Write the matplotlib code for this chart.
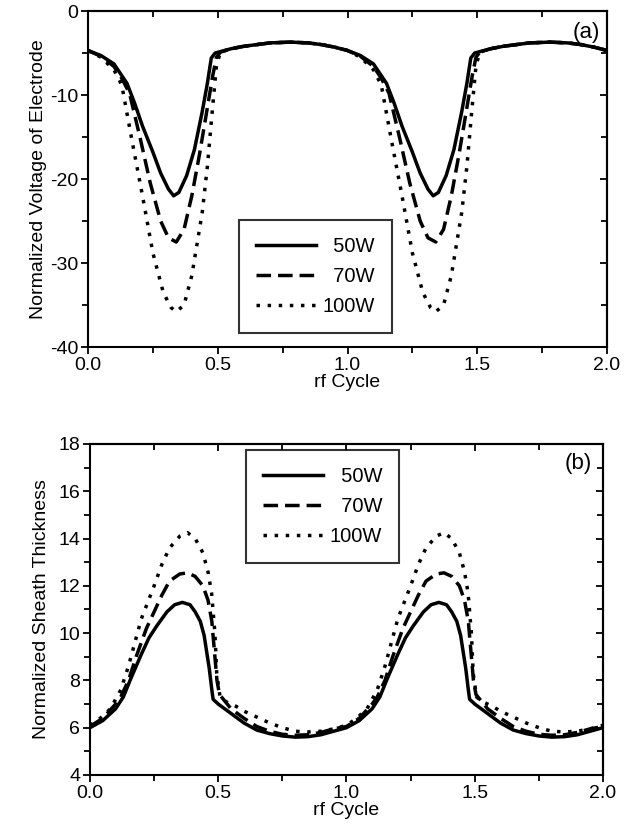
import matplotlib
matplotlib.use('Agg')
import matplotlib.pyplot as plt
from matplotlib.ticker import MultipleLocator

plt.rcParams['font.family'] = ['Liberation Sans', 'DejaVu Sans']
plt.rcParams['axes.unicode_minus'] = False

# ---- data ----
labels = ['50W', '70W', '100W']

# (a) normalized electrode voltage
xa_50 = [0.00, 0.05, 0.10, 0.15, 0.18, 0.21, 0.25, 0.28, 0.31, 0.33, 0.35, 0.38, 0.41, 0.44, 0.46,
         0.475, 0.49, 0.55, 0.60, 0.70, 0.78, 0.85, 0.90, 0.95,
         1.00, 1.05, 1.10, 1.15, 1.18, 1.21, 1.25, 1.28, 1.31, 1.33, 1.35, 1.38, 1.41, 1.44, 1.46,
         1.475, 1.49, 1.55, 1.60, 1.70, 1.78, 1.85, 1.90, 1.95, 2.00]
va_50 = [-4.7, -5.3, -6.3, -8.6, -11.0, -13.7, -16.8, -19.3, -21.2, -22.0, -21.6, -19.6, -16.5, -12.0, -8.6,
         -5.6, -5.0, -4.5, -4.2, -3.8, -3.7, -3.8, -4.0, -4.3,
         -4.7, -5.3, -6.3, -8.6, -11.0, -13.7, -16.8, -19.3, -21.2, -22.0, -21.6, -19.6, -16.5, -12.0, -8.6,
         -5.6, -5.0, -4.5, -4.2, -3.8, -3.7, -3.8, -4.0, -4.3, -4.7]

xa_70 = [0.00, 0.05, 0.10, 0.13, 0.16, 0.20, 0.24, 0.28, 0.31, 0.34, 0.37, 0.40, 0.43, 0.46, 0.48, 0.495, 0.51,
         0.55, 0.60, 0.70, 0.78, 0.85, 0.90, 0.95,
         1.00, 1.05, 1.10, 1.13, 1.16, 1.20, 1.24, 1.28, 1.31, 1.34, 1.37, 1.40, 1.43, 1.46, 1.48, 1.495, 1.51,
         1.55, 1.60, 1.70, 1.78, 1.85, 1.90, 1.95, 2.00]
va_70 = [-4.7, -5.4, -6.6, -8.0, -9.8, -15.0, -20.5, -25.0, -27.0, -27.5, -26.0, -22.0, -17.0, -11.5, -7.8, -5.5, -4.9,
         -4.5, -4.2, -3.8, -3.7, -3.8, -4.0, -4.3,
         -4.7, -5.4, -6.6, -8.0, -9.8, -15.0, -20.5, -25.0, -27.0, -27.5, -26.0, -22.0, -17.0, -11.5, -7.8, -5.5, -4.9,
         -4.5, -4.2, -3.8, -3.7, -3.8, -4.0, -4.3, -4.7]

xa_100 = [0.00, 0.05, 0.10, 0.13, 0.17, 0.21, 0.25, 0.29, 0.32, 0.34, 0.37, 0.40, 0.44, 0.46, 0.48, 0.495, 0.51,
          0.55, 0.60, 0.70, 0.78, 0.85, 0.90, 0.95,
          1.00, 1.05, 1.10, 1.13, 1.17, 1.21, 1.25, 1.29, 1.32, 1.34, 1.37, 1.40, 1.44, 1.46, 1.48, 1.495, 1.51,
          1.55, 1.60, 1.70, 1.78, 1.85, 1.90, 1.95, 2.00]
va_100 = [-4.7, -5.5, -7.0, -8.8, -15.5, -22.0, -28.8, -33.5, -35.3, -35.8, -35.0, -31.5, -24.0, -18.5, -11.5, -6.5, -4.9,
          -4.5, -4.2, -3.8, -3.7, -3.8, -4.0, -4.3,
          -4.7, -5.5, -7.0, -8.8, -15.5, -22.0, -28.8, -33.5, -35.3, -35.8, -35.0, -31.5, -24.0, -18.5, -11.5, -6.5, -4.9,
          -4.5, -4.2, -3.8, -3.7, -3.8, -4.0, -4.3, -4.7]

# (b) normalized sheath thickness
xb_50 = [0.00, 0.05, 0.10, 0.13, 0.16, 0.20, 0.23, 0.26, 0.30, 0.33, 0.36, 0.39, 0.41, 0.43, 0.445, 0.455, 0.465,
         0.475, 0.48, 0.50, 0.55, 0.60, 0.65, 0.70, 0.75, 0.80, 0.85, 0.90, 0.95,
         1.00, 1.05, 1.10, 1.13, 1.16, 1.20, 1.23, 1.26, 1.30, 1.33, 1.36, 1.39, 1.41, 1.43, 1.445, 1.455, 1.465,
         1.475, 1.48, 1.50, 1.55, 1.60, 1.65, 1.70, 1.75, 1.80, 1.85, 1.90, 1.95, 2.00]
vb_50 = [6.0, 6.3, 6.8, 7.3, 8.1, 9.1, 9.8, 10.3, 10.9, 11.2, 11.3, 11.2, 10.9, 10.5, 9.9, 9.2, 8.5,
         7.6, 7.2, 7.0, 6.6, 6.2, 5.9, 5.75, 5.65, 5.6, 5.62, 5.7, 5.85,
         6.0, 6.3, 6.8, 7.3, 8.1, 9.1, 9.8, 10.3, 10.9, 11.2, 11.3, 11.2, 10.9, 10.5, 9.9, 9.2, 8.5,
         7.6, 7.2, 7.0, 6.6, 6.2, 5.9, 5.75, 5.65, 5.6, 5.62, 5.7, 5.85, 6.0]

xb_70 = [0.00, 0.05, 0.10, 0.12, 0.15, 0.18, 0.22, 0.25, 0.28, 0.31, 0.35, 0.38, 0.41, 0.44, 0.46, 0.475, 0.487,
         0.495, 0.505, 0.52, 0.55, 0.60, 0.65, 0.70, 0.75, 0.80, 0.85, 0.90, 0.95,
         1.00, 1.05, 1.10, 1.12, 1.15, 1.18, 1.22, 1.25, 1.28, 1.31, 1.35, 1.38, 1.41, 1.44, 1.46, 1.475, 1.487,
         1.495, 1.505, 1.52, 1.55, 1.60, 1.65, 1.70, 1.75, 1.80, 1.85, 1.90, 1.95, 2.00]
vb_70 = [6.05, 6.4, 7.0, 7.3, 8.0, 9.0, 10.2, 10.9, 11.6, 12.2, 12.5, 12.55, 12.4, 12.0, 11.4, 10.5, 9.0,
         8.0, 7.4, 7.2, 6.8, 6.4, 6.05, 5.85, 5.72, 5.68, 5.7, 5.8, 5.95,
         6.05, 6.4, 7.0, 7.3, 8.0, 9.0, 10.2, 10.9, 11.6, 12.2, 12.5, 12.55, 12.4, 12.0, 11.4, 10.5, 9.0,
         8.0, 7.4, 7.2, 6.8, 6.4, 6.05, 5.85, 5.72, 5.68, 5.7, 5.8, 5.95, 6.05]

xb_100 = [0.00, 0.04, 0.08, 0.12, 0.15, 0.18, 0.20, 0.25, 0.28, 0.31, 0.35, 0.38, 0.41, 0.44, 0.46, 0.474, 0.487,
          0.494, 0.507, 0.53, 0.57, 0.60, 0.65, 0.70, 0.75, 0.80, 0.85, 0.90, 0.95,
          1.00, 1.04, 1.08, 1.12, 1.15, 1.18, 1.20, 1.25, 1.28, 1.31, 1.35, 1.38, 1.41, 1.44, 1.46, 1.474, 1.487,
          1.494, 1.507, 1.53, 1.57, 1.60, 1.65, 1.70, 1.75, 1.80, 1.85, 1.90, 1.95, 2.00]
vb_100 = [6.1, 6.4, 6.8, 7.6, 8.6, 9.8, 10.6, 12.0, 12.9, 13.6, 14.1, 14.25, 14.0, 13.4, 12.6, 11.7, 10.0,
          8.3, 7.3, 7.1, 6.9, 6.7, 6.45, 6.2, 6.0, 5.85, 5.82, 5.85, 5.95,
          6.1, 6.4, 6.8, 7.6, 8.6, 9.8, 10.6, 12.0, 12.9, 13.6, 14.1, 14.25, 14.0, 13.4, 12.6, 11.7, 10.0,
          8.3, 7.3, 7.1, 6.9, 6.7, 6.45, 6.2, 6.0, 5.85, 5.82, 5.85, 5.95, 6.1]

styles = [dict(ls='-'), dict(ls=(0, (4.2, 2.0))), dict(ls=(0, (1, 2.2)))]
FS = 14


def style_axes(ax, xmaj, xmin, ymaj, ymin):
    ax.set_xlim(0, 2)
    for s in ax.spines.values():
        s.set_linewidth(1.5)
    ax.xaxis.set_major_locator(MultipleLocator(xmaj))
    ax.xaxis.set_minor_locator(MultipleLocator(xmin))
    ax.yaxis.set_major_locator(MultipleLocator(ymaj))
    ax.yaxis.set_minor_locator(MultipleLocator(ymin))
    ax.tick_params(which='both', direction='out', width=1.3, labelsize=FS, pad=2)
    ax.tick_params(which='major', length=5)
    ax.tick_params(which='minor', length=4)
    ax.xaxis.set_major_formatter(plt.FormatStrFormatter('%.1f'))

    # top and right ticks point inward, no labels
    top = ax.secondary_xaxis('top')
    right = ax.secondary_yaxis('right')
    top.xaxis.set_major_locator(MultipleLocator(xmaj))
    top.xaxis.set_minor_locator(MultipleLocator(xmin))
    right.yaxis.set_major_locator(MultipleLocator(ymaj))
    right.yaxis.set_minor_locator(MultipleLocator(ymin))
    for sec in (top, right):
        sec.tick_params(which='both', direction='in', width=1.3, length=5, labelsize=0)
        sec.tick_params(which='minor', length=4)
        for s in sec.spines.values():
            s.set_linewidth(1.5)
    top.set_xticklabels([])
    right.set_yticklabels([])
    ax.set_xlabel('rf Cycle', fontsize=FS, labelpad=0)


def add_legend(ax, loc):
    names = ['\u2007' + labels[0], '\u2007' + labels[1], labels[2]]
    leg = ax.legend(ax.get_lines(), names, loc=loc[0], bbox_to_anchor=loc[1], fontsize=FS + 0.5,
                    handlelength=3.0, handletextpad=0.3, frameon=True, fancybox=False,
                    borderpad=0.85, labelspacing=0.55, borderaxespad=0)
    leg.get_frame().set_edgecolor('black')
    leg.get_frame().set_linewidth(1.5)


fig = plt.figure(figsize=(6.41, 8.35), dpi=100)
ax1 = fig.add_axes([0.1373, 0.5844, 0.8097, 0.4024])
ax2 = fig.add_axes([0.1404, 0.0719, 0.8003, 0.3964])

for x, v, st in zip([xa_50, xa_70, xa_100], [va_50, va_70, va_100], styles):
    ax1.plot(x, v, color='black', lw=2.5, **st)
ax1.set_ylim(-40, 0)
style_axes(ax1, 0.5, 0.25, 10, 5)
ax1.set_ylabel('Normalized Voltage of Electrode', fontsize=FS, labelpad=2)
ax1.text(0.987, 0.936, '(a)', transform=ax1.transAxes, ha='right', va='center', fontsize=16)
add_legend(ax1, ('lower left', (0.29, 0.042)))

for x, v, st in zip([xb_50, xb_70, xb_100], [vb_50, vb_70, vb_100], styles):
    ax2.plot(x, v, color='black', lw=2.5, **st)
ax2.set_ylim(4, 18)
style_axes(ax2, 0.5, 0.25, 2, 1)
ax2.set_ylabel('Normalized Sheath Thickness', fontsize=FS, labelpad=6)
ax2.text(0.978, 0.94, '(b)', transform=ax2.transAxes, ha='right', va='center', fontsize=16)
add_legend(ax2, ('upper left', (0.304, 0.983)))

fig.savefig('out.png', dpi=100)
